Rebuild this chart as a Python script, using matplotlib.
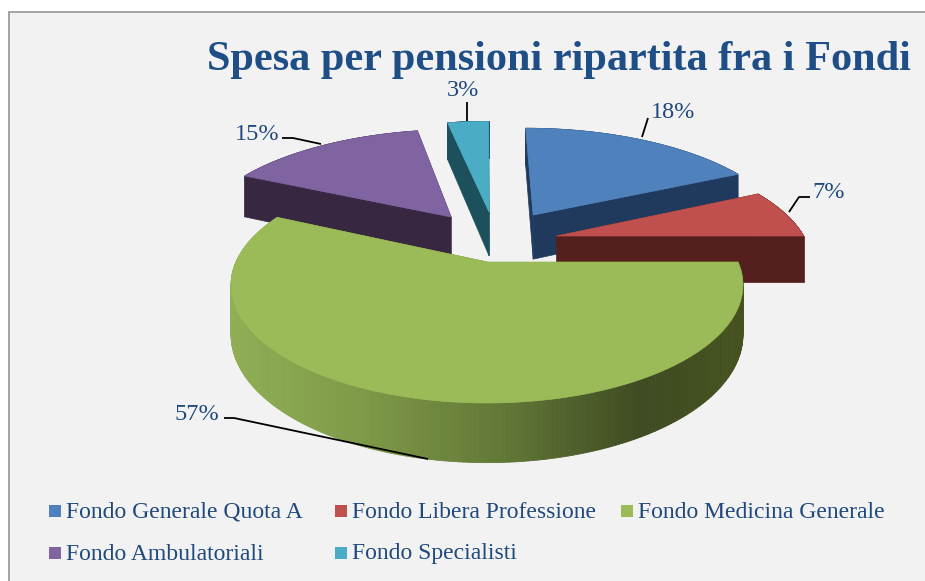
import numpy as np
import matplotlib
matplotlib.use('Agg')
import matplotlib.pyplot as plt
from matplotlib.collections import PolyCollection
from matplotlib.colors import LinearSegmentedColormap
from matplotlib.patches import Rectangle, Polygon

plt.rcParams['font.family'] = ['Liberation Serif', 'DejaVu Serif']

title = 'Spesa per pensioni ripartita fra i Fondi'
fondi = ['Fondo Generale Quota A', 'Fondo Libera Professione', 'Fondo Medicina Generale',
         'Fondo Ambulatoriali', 'Fondo Specialisti']
percentuali = [18, 7, 57, 15, 3]

top_colors = ['#4f81bd', '#c0504d', '#9bbb59', '#8064a2', '#4bacc6']
wall_colors = ['#1f3a5c', '#54201e', '#5f7535', '#372741', '#1d505d']
text_color = '#1f497d'

# spostamento di ogni fetta sul piano della torta (u, v) e raggio
explode = [(0.2, 0.45), (0.29, 0.24), (0.0, 0.0), (-0.155, 0.43), (0.009, 0.482)]
radius = [1.08, 1.03, 1.0, 1.08, 1.15]
draw_order = [4, 3, 0, 1, 2]

# vista prospettica, in pixel della figura
CX, CY = 487, 262
SCALE_X, SCALE_Y, PERSP = 251, 113.5, 0.195
DEPTH = 48

green_side = LinearSegmentedColormap.from_list(
    'green_side', [(0, '#8fae55'), (0.25, '#7f9a48'), (0.55, '#5f7535'), (0.8, '#3f4b22'), (1, '#45521f')])


def project(u, v, down=0.0):
    w = 1 + PERSP * v
    return CX + SCALE_X * u / w, CY - SCALE_Y * v / w + down * DEPTH / w


def slice_outline(i, start, end, n=240):
    theta = np.radians(np.linspace(start, end, n))
    u = explode[i][0] + radius[i] * np.sin(theta)
    v = explode[i][1] + radius[i] * np.cos(theta)
    return u, v


fig = plt.figure(figsize=(9.25, 5.81), dpi=100)
ax = fig.add_axes([0, 0, 1, 1])
ax.set_xlim(0, 925)
ax.set_ylim(581, 0)
ax.axis('off')

ax.add_patch(Rectangle((9, 12), 930, 590, facecolor='#f2f2f2', edgecolor='#a3a3a3', linewidth=1.4))

ax.text(207, 70, title, fontsize=30.4, fontweight='bold', color='#1f4e87', ha='left', va='baseline')

angles = np.concatenate([[0], np.cumsum(percentuali)]) * 360 / sum(percentuali)

for i in draw_order:
    u, v = slice_outline(i, angles[i], angles[i + 1])
    u0, v0 = explode[i]

    # pareti interne
    for uk, vk in [(u[0], v[0]), (u[-1], v[-1])]:
        corners = [project(u0, v0), project(uk, vk), project(uk, vk, 1), project(u0, v0, 1)]
        ax.add_patch(Polygon(corners, facecolor=wall_colors[i], edgecolor=wall_colors[i], linewidth=0.5))

    # parete esterna
    xt, yt = project(u, v)
    xb, yb = project(u, v, 1)
    quads = [[(xt[k], yt[k]), (xt[k + 1], yt[k + 1]), (xb[k + 1], yb[k + 1]), (xb[k], yb[k])]
             for k in range(len(u) - 1)]
    if i == 2:
        cols = [green_side((x - 230) / 512) for x in (xt[:-1] + xt[1:]) / 2]
    else:
        cols = [wall_colors[i]] * len(quads)
    ax.add_collection(PolyCollection(quads, facecolors=cols, edgecolors=cols, linewidths=0.6))

    # faccia superiore
    top = [project(u0, v0)] + list(zip(xt, yt))
    ax.add_patch(Polygon(top, facecolor=top_colors[i], edgecolor=top_colors[i], linewidth=0.5))

# etichette con linee guida
label_pos = [(673, 112), (829, 193), (197, 415), (257, 134), (463, 91)]
leaders = [
    [(642, 137), (648, 118)],
    [(789, 212), (799, 197), (810, 197)],
    [(428, 459), (234, 418), (224, 418)],
    [(321, 144), (293, 138), (282, 138)],
    [(467, 121), (467, 102)],
]
for i, val in enumerate(percentuali):
    ax.text(label_pos[i][0], label_pos[i][1], f'{val}%', fontsize=17.5, color=text_color, ha='center', va='center')
    ax.plot(*zip(*leaders[i]), color='black', linewidth=1.3, solid_capstyle='butt')

# legenda
legend_pos = [(49, 511), (335, 511), (621, 511), (49, 553), (335, 553)]
for i, name in enumerate(fondi):
    x, y = legend_pos[i]
    ax.add_patch(Rectangle((x, y - 6), 12, 12, facecolor=top_colors[i], edgecolor='none'))
    ax.text(x + 17, y + 1, name, fontsize=17, color=text_color, ha='left', va='center')

fig.savefig('out.png', dpi=100)
